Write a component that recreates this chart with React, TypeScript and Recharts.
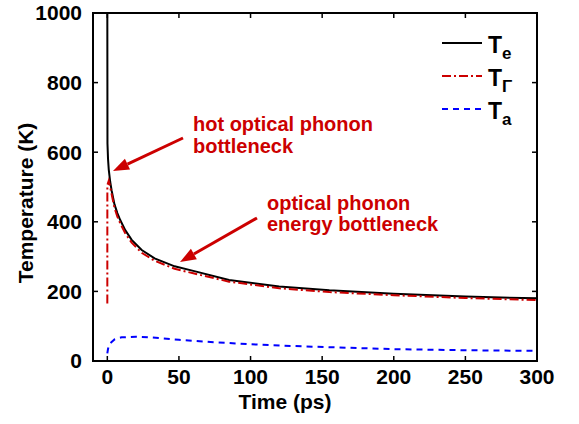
import React from 'react';
import { LineChart, Line, XAxis, YAxis, Legend } from 'recharts';

const TIME_TICKS = [0, 50, 100, 150, 200, 250, 300];
const TEMP_TICKS = [0, 200, 400, 600, 800, 1000];
const X_DOMAIN = [-10, 300];
const Y_DOMAIN = [0, 1000];

// electron temperature
const TE_TIME = [0, 0.1, 0.5, 1, 2, 3, 5, 7, 9, 12.5, 17, 24, 33, 47, 60, 85, 120, 155, 200, 250, 300];
const TE_TEMP = [1000, 625, 580, 550, 515, 490, 450, 425, 405, 376, 348, 319, 295, 272, 259, 233, 214, 203, 193, 185, 180];

// zone-center optical phonon temperature
const TG_TIME = [0, 0.02, 1, 2, 3, 5, 7, 9, 12.5, 17, 24, 33, 47, 60, 85, 120, 155, 200, 250, 300];
const TG_TEMP = [165, 505, 518, 500, 480, 440, 415, 396, 367, 340, 311, 288, 265, 252, 228, 209, 198, 189, 181, 175];

// acoustic phonon temperature
const TA_TIME = [0, 0.5, 1, 2, 5, 10, 20, 30, 50, 75, 100, 130, 160, 200, 250, 300];
const TA_TEMP = [22, 35, 42, 51, 62, 68, 70, 68, 61, 54, 48, 43, 39, 34, 31, 29];

const toPoints = (ts: number[], vs: number[]) => ts.map((t, i) => ({ t, T: vs[i] }));

const RED = '#cc0000';
const FONT = '"Liberation Sans", Arial, sans-serif';

const SERIES = [
  { name: 'Te', sub: 'e', color: '#000000', dash: undefined as string | undefined, data: toPoints(TE_TIME, TE_TEMP) },
  { name: 'TΓ', sub: 'Γ', color: RED, dash: '9 3 2 3', data: toPoints(TG_TIME, TG_TEMP) },
  { name: 'Ta', sub: 'a', color: '#0000ff', dash: '6 5', data: toPoints(TA_TIME, TA_TEMP) },
];

const W = 579;
const H = 424;
const MARGIN = { top: 13, right: 42, left: 13, bottom: 13 };
const Y_AXIS_W = 80;
const X_AXIS_H = 50;
// plot box, same as what recharts lays out from the margins above
const PLOT = {
  left: MARGIN.left + Y_AXIS_W,
  top: MARGIN.top,
  right: W - MARGIN.right,
  bottom: H - MARGIN.bottom - X_AXIS_H,
};
const sx = (t: number) =>
  PLOT.left + ((t - X_DOMAIN[0]) / (X_DOMAIN[1] - X_DOMAIN[0])) * (PLOT.right - PLOT.left);
const sy = (v: number) =>
  PLOT.bottom - ((v - Y_DOMAIN[0]) / (Y_DOMAIN[1] - Y_DOMAIN[0])) * (PLOT.bottom - PLOT.top);
const TICK = 5;
const FRAME = 2;

const renderLegend = () => (
  <svg width={120} height={120}>
    {SERIES.map((s, i) => {
      const y = 18 + i * 33;
      return (
        <g key={s.name}>
          <line x1={0} x2={40} y1={y} y2={y} stroke={s.color} strokeWidth={2} strokeDasharray={s.dash} />
          <text x={46} y={y + 10} fontSize={23} fontWeight="bold" fontFamily={FONT} fill="#000">
            T
            <tspan fontSize={17} dy={6}>{s.sub}</tspan>
          </text>
        </g>
      );
    })}
  </svg>
);

const Arrow = ({ x1, y1, x2, y2 }: { x1: number; y1: number; x2: number; y2: number }) => {
  const ang = Math.atan2(y2 - y1, x2 - x1);
  const len = 16;
  const half = 6;
  const bx = x2 - len * Math.cos(ang);
  const by = y2 - len * Math.sin(ang);
  const px = -Math.sin(ang) * half;
  const py = Math.cos(ang) * half;
  return (
    <g>
      <line x1={x1} y1={y1} x2={bx} y2={by} stroke={RED} strokeWidth={3} />
      <polygon points={`${x2},${y2} ${bx + px},${by + py} ${bx - px},${by - py}`} fill={RED} />
    </g>
  );
};

const tickStyle = { fontSize: 21, fontWeight: 'bold', fill: '#000', fontFamily: FONT };

export default function App() {
  return (
    <div style={{ position: 'absolute', left: 0, top: 0, width: W, height: H, background: '#fff' }}>
      <LineChart width={W} height={H} margin={MARGIN}>
        <XAxis
          dataKey="t"
          type="number"
          domain={X_DOMAIN}
          ticks={TIME_TICKS}
          allowDataOverflow
          height={X_AXIS_H}
          tickSize={0}
          tickMargin={8}
          tick={tickStyle}
          axisLine={false}
          tickLine={false}
        />
        <YAxis
          type="number"
          domain={Y_DOMAIN}
          ticks={TEMP_TICKS}
          allowDataOverflow
          width={Y_AXIS_W}
          tickSize={0}
          tickMargin={11}
          tick={tickStyle}
          axisLine={false}
          tickLine={false}
        />
        {SERIES.map((s) => (
          <Line
            key={s.name}
            data={s.data}
            dataKey="T"
            name={s.name}
            type="linear"
            stroke={s.color}
            strokeWidth={2}
            strokeDasharray={s.dash}
            dot={false}
            activeDot={false}
            isAnimationActive={false}
          />
        ))}
        <Legend
          layout="vertical"
          align="center"
          verticalAlign="middle"
          content={renderLegend}
          wrapperStyle={{ position: 'absolute', left: 442, top: 25, width: 120, height: 120 }}
        />
      </LineChart>
      {/* axes box */}
      <div
        style={{
          position: 'absolute',
          left: PLOT.left - FRAME / 2,
          top: PLOT.top - FRAME / 2,
          width: PLOT.right - PLOT.left - FRAME,
          height: PLOT.bottom - PLOT.top - FRAME,
          border: `${FRAME}px solid #000`,
          pointerEvents: 'none',
        }}
      />
      <svg width={W} height={H} style={{ position: 'absolute', left: 0, top: 0, pointerEvents: 'none' }}>
        <g stroke="#000" strokeWidth={1.5}>
          {TIME_TICKS.map((t) => (
            <g key={`xt${t}`}>
              <line x1={sx(t)} x2={sx(t)} y1={PLOT.bottom} y2={PLOT.bottom - TICK} />
              <line x1={sx(t)} x2={sx(t)} y1={PLOT.top} y2={PLOT.top + TICK} />
            </g>
          ))}
          {TEMP_TICKS.map((v) => (
            <g key={`yt${v}`}>
              <line x1={PLOT.left} x2={PLOT.left + TICK} y1={sy(v)} y2={sy(v)} />
              <line x1={PLOT.right} x2={PLOT.right - TICK} y1={sy(v)} y2={sy(v)} />
            </g>
          ))}
        </g>
        <text
          transform="translate(33, 203) rotate(-90)"
          textAnchor="middle"
          fontSize={21}
          fontWeight="bold"
          fontFamily={FONT}
          fill="#000"
        >
          Temperature (K)
        </text>
        <text x={285} y={409} textAnchor="middle" fontSize={21} fontWeight="bold" fontFamily={FONT} fill="#000">
          Time (ps)
        </text>
        <text fontSize={20} fontWeight="bold" fontFamily={FONT} fill={RED}>
          <tspan x={193} y={131}>hot optical phonon</tspan>
          <tspan x={193} y={153}>bottleneck</tspan>
        </text>
        <text fontSize={20} fontWeight="bold" fontFamily={FONT} fill={RED}>
          <tspan x={267} y={210}>optical phonon</tspan>
          <tspan x={267} y={231}>energy bottleneck</tspan>
        </text>
        <Arrow x1={183} y1={138} x2={113} y2={171} />
        <Arrow x1={257} y1={218} x2={180} y2={262} />
      </svg>
    </div>
  );
}
